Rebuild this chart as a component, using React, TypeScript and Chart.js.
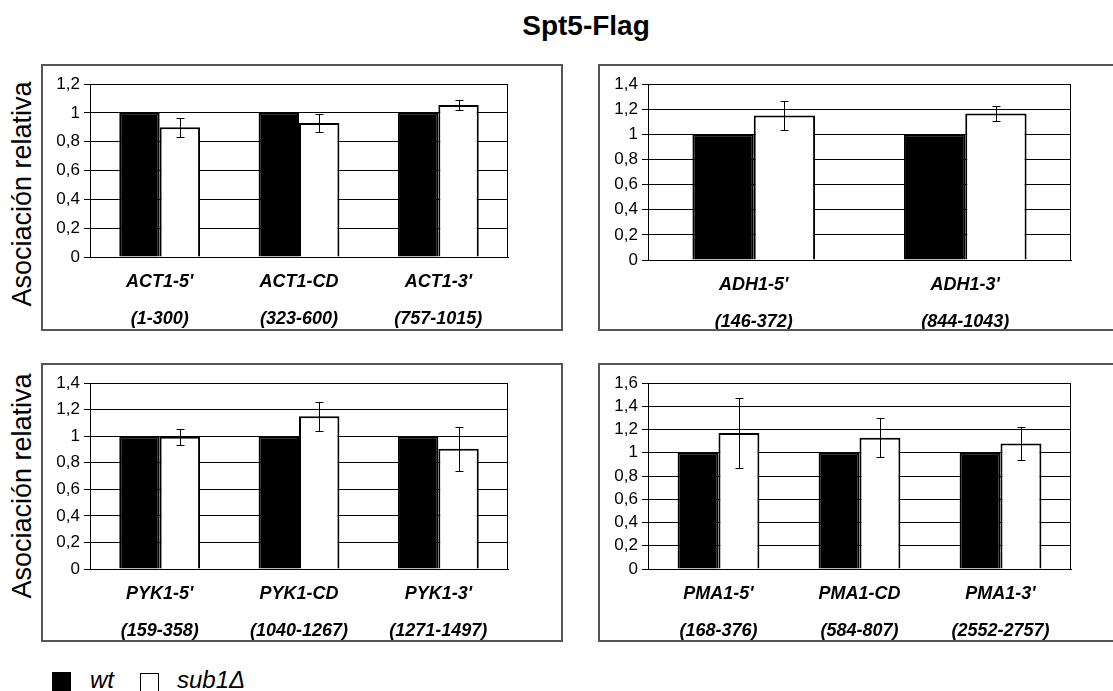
import React, { useEffect, useRef } from 'react';
import { Chart, registerables } from 'chart.js';

Chart.register(...registerables);

const FONT = "Arial, 'Liberation Sans', Helvetica, sans-serif";

const seriesNames = ['wt', 'sub1Δ'];
const chartTitle = 'Spt5-Flag';
const yAxisTitle = 'Asociación relativa';

// ACT1
const actCategories = [["ACT1-5'", '(1-300)'], ['ACT1-CD', '(323-600)'], ["ACT1-3'", '(757-1015)']];
const actWt = [1, 1, 1];
const actSub1 = [0.9, 0.93, 1.055];
const actSub1Err = [0.065, 0.065, 0.035];
const actYMax = 1.2;

// ADH1
const adhCategories = [["ADH1-5'", '(146-372)'], ["ADH1-3'", '(844-1043)']];
const adhWt = [1, 1];
const adhSub1 = [1.15, 1.165];
const adhSub1Err = [0.115, 0.057];
const adhYMax = 1.4;

// PYK1
const pykCategories = [["PYK1-5'", '(159-358)'], ['PYK1-CD', '(1040-1267)'], ["PYK1-3'", '(1271-1497)']];
const pykWt = [1, 1, 1];
const pykSub1 = [0.995, 1.15, 0.905];
const pykSub1Err = [0.06, 0.11, 0.165];
const pykYMax = 1.4;

// PMA1
const pmaCategories = [["PMA1-5'", '(168-376)'], ['PMA1-CD', '(584-807)'], ["PMA1-3'", '(2552-2757)']];
const pmaWt = [1, 1, 1];
const pmaSub1 = [1.17, 1.13, 1.08];
const pmaSub1Err = [0.3, 0.17, 0.145];
const pmaYMax = 1.6;

const yStep = 0.2;

function fmtTick(v: number): string {
  const r = Math.round(v * 10) / 10;
  if (Number.isInteger(r)) return String(r);
  return r.toFixed(1).replace('.', ',');
}

const errorBarPlugin = {
  id: 'errorBars',
  afterDatasetsDraw(chart: any) {
    const { ctx } = chart;
    const yScale = chart.scales.y;
    chart.data.datasets.forEach((ds: any, i: number) => {
      const errs: number[] | undefined = ds.errors;
      if (!errs) return;
      const meta = chart.getDatasetMeta(i);
      meta.data.forEach((bar: any, j: number) => {
        const v = ds.data[j];
        const e = errs[j];
        const x = Math.round(bar.x) + 0.5;
        const yt = Math.round(yScale.getPixelForValue(v + e)) + 0.5;
        const yb = Math.round(yScale.getPixelForValue(v - e)) + 0.5;
        ctx.save();
        ctx.strokeStyle = '#000';
        ctx.lineWidth = 1;
        ctx.beginPath();
        ctx.moveTo(x, yt);
        ctx.lineTo(x, yb);
        ctx.moveTo(x - 4, yt);
        ctx.lineTo(x + 4, yt);
        ctx.moveTo(x - 4, yb);
        ctx.lineTo(x + 4, yb);
        ctx.stroke();
        ctx.restore();
      });
    });
  },
};

const framePlugin = {
  id: 'plotFrame',
  beforeDatasetsDraw(chart: any) {
    const { ctx, chartArea } = chart;
    ctx.save();
    ctx.strokeStyle = '#000';
    ctx.lineWidth = 1;
    const r = Math.round(chartArea.right) - 0.5;
    ctx.beginPath();
    ctx.moveTo(r, chartArea.top);
    ctx.lineTo(r, chartArea.bottom);
    ctx.stroke();
    ctx.restore();
  },
};

type PanelProps = {
  left: number;
  top: number;
  width: number;
  height: number;
  categories: string[][];
  wt: number[];
  sub1: number[];
  sub1Err: number[];
  yMax: number;
  yAxisWidth: number;
  padRight: number;
  padTop: number;
  xAxisHeight: number;
};

const BORDER = 2;

function Panel(p: PanelProps) {
  const ref = useRef<HTMLCanvasElement | null>(null);
  const innerW = p.width - 2 * BORDER;
  const innerH = p.height - 2 * BORDER;

  useEffect(() => {
    if (!ref.current) return;
    const chart = new Chart(ref.current, {
      type: 'bar',
      data: {
        labels: p.categories,
        datasets: [
          {
            label: seriesNames[0],
            data: p.wt,
            backgroundColor: '#000',
            borderColor: '#000',
            borderWidth: 2,
            categoryPercentage: 0.58,
            barPercentage: 1,
          } as any,
          {
            label: seriesNames[1],
            data: p.sub1,
            errors: p.sub1Err,
            backgroundColor: '#fff',
            borderColor: '#000',
            borderWidth: 2,
            categoryPercentage: 0.58,
            barPercentage: 1,
          } as any,
        ],
      },
      options: {
        animation: false,
        responsive: false,
        devicePixelRatio: 1,
        layout: { padding: { left: 0, right: p.padRight, top: p.padTop, bottom: 0 } },
        plugins: {
          legend: { display: false },
          tooltip: { enabled: false },
          title: { display: false },
        },
        scales: {
          x: {
            grid: { display: false, drawTicks: false },
            border: { display: true, color: '#000', width: 1 },
            ticks: {
              color: '#000',
              padding: 7,
              maxRotation: 0,
              autoSkip: false,
              font: { family: FONT, size: 18, style: 'italic', weight: 'bold', lineHeight: '37px' } as any,
            },
            afterFit: (s: any) => {
              s.height = p.xAxisHeight;
            },
          },
          y: {
            min: 0,
            max: p.yMax,
            grid: { color: '#000', lineWidth: 1, drawTicks: true, tickLength: 6, tickColor: '#000' },
            border: { display: true, color: '#000', width: 1 },
            ticks: {
              stepSize: yStep,
              autoSkip: false,
              color: '#000',
              padding: 4,
              font: { family: FONT, size: 17 },
              callback: (v: any) => fmtTick(Number(v)),
            },
            afterFit: (s: any) => {
              s.width = p.yAxisWidth;
            },
          },
        },
      },
      plugins: [framePlugin, errorBarPlugin],
    });
    return () => chart.destroy();
  }, []);

  return (
    <div
      style={{
        position: 'absolute',
        left: p.left,
        top: p.top,
        width: p.width,
        height: p.height,
        boxSizing: 'border-box',
        border: `${BORDER}px solid #555`,
        background: '#fff',
      }}
    >
      <canvas ref={ref} width={innerW} height={innerH} style={{ display: 'block', width: innerW, height: innerH }} />
    </div>
  );
}

function YTitle({ cx, cy }: { cx: number; cy: number }) {
  return (
    <div
      style={{
        position: 'absolute',
        left: cx,
        top: cy,
        transform: 'translate(-50%, -50%) rotate(-90deg)',
        whiteSpace: 'nowrap',
        fontFamily: FONT,
        fontSize: 27,
        lineHeight: '27px',
        color: '#000',
      }}
    >
      {yAxisTitle}
    </div>
  );
}

export default function App() {
  return (
    <div
      style={{
        position: 'absolute',
        left: 0,
        top: 0,
        width: 1113,
        height: 691,
        overflow: 'hidden',
        background: '#fff',
        fontFamily: FONT,
      }}
    >
      <div
        style={{
          position: 'absolute',
          left: 586,
          top: 12,
          transform: 'translateX(-50%)',
          fontWeight: 'bold',
          fontSize: 28,
          lineHeight: '28px',
          whiteSpace: 'nowrap',
          color: '#000',
        }}
      >
        {chartTitle}
      </div>

      <YTitle cx={22} cy={194} />
      <YTitle cx={22} cy={486} />

      <Panel left={41} top={64} width={522} height={267} categories={actCategories} wt={actWt} sub1={actSub1} sub1Err={actSub1Err} yMax={actYMax} yAxisWidth={47} padRight={53} padTop={18} xAxisHeight={72} />
      <Panel left={598} top={64} width={522} height={267} categories={adhCategories} wt={adhWt} sub1={adhSub1} sub1Err={adhSub1Err} yMax={adhYMax} yAxisWidth={48} padRight={47} padTop={18} xAxisHeight={69} />
      <Panel left={41} top={363} width={522} height={279} categories={pykCategories} wt={pykWt} sub1={pykSub1} sub1Err={pykSub1Err} yMax={pykYMax} yAxisWidth={47} padRight={53} padTop={18} xAxisHeight={71} />
      <Panel left={598} top={363} width={522} height={279} categories={pmaCategories} wt={pmaWt} sub1={pmaSub1} sub1Err={pmaSub1Err} yMax={pmaYMax} yAxisWidth={48} padRight={47} padTop={18} xAxisHeight={71} />

      {/* legend */}
      <div style={{ position: 'absolute', left: 52, top: 672, width: 19, height: 19, background: '#000' }} />
      <div style={{ position: 'absolute', left: 90, top: 668, fontSize: 24, lineHeight: '24px', fontStyle: 'italic', color: '#000' }}>{seriesNames[0]}</div>
      <div style={{ position: 'absolute', left: 140, top: 673, width: 19, height: 19, boxSizing: 'border-box', border: '1px solid #000', background: '#fff' }} />
      <div style={{ position: 'absolute', left: 177, top: 668, fontSize: 24, lineHeight: '24px', fontStyle: 'italic', color: '#000' }}>{seriesNames[1]}</div>
    </div>
  );
}
